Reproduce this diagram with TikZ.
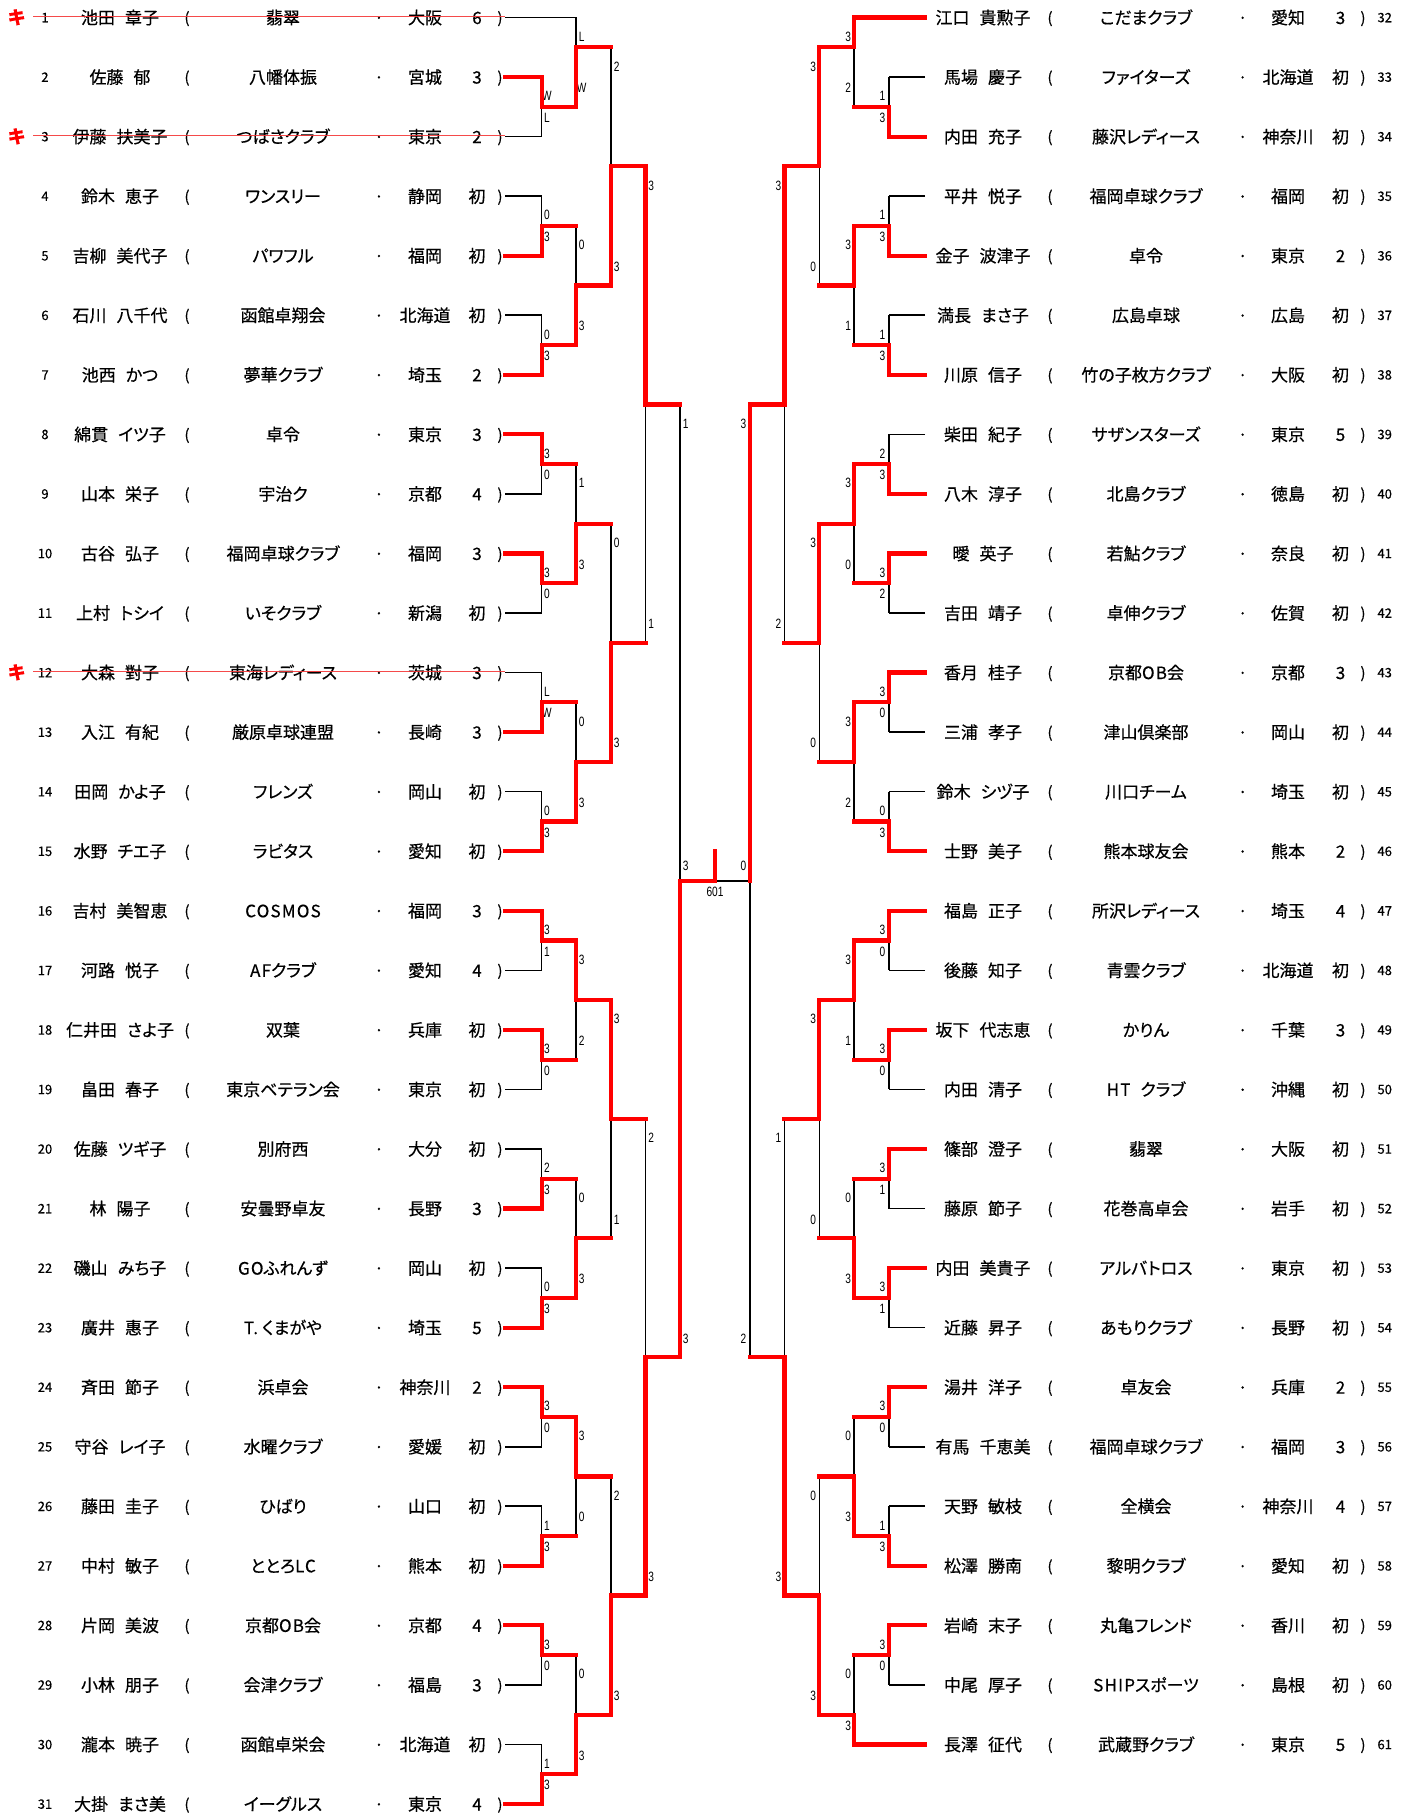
\documentclass[tikz,border=0pt]{standalone}
\usepackage{fontspec}
\newfontfamily\jp[RawFeature={+palt},FakeBold=0.5]{Noto Sans CJK JP}
\newfontfamily\jpn[FakeBold=0.3]{Noto Sans CJK JP}
\newfontfamily\narrowf[FakeStretch=0.75]{Liberation Sans}
\newcommand{\lsp}[1]{{\addfontfeature{LetterSpace=7}#1}}
\definecolor{wred}{RGB}{255,0,0}
\definecolor{sred}{RGB}{245,55,55}
\def\xla{505}\def\xlb{541.6}\def\xlc{576.2}\def\xld{611}\def\xle{645.4}\def\xlf{680}
\def\xc{715}
\def\xrf{750}\def\xre{784.5}\def\xrd{819.3}\def\xrc{854.2}\def\xrb{889}\def\xra{925}
\newcount\lblc
\newcommand{\mch}[6]{%
  \draw[blk] ({#1},{#2}) -- ({#1},{#3});
  \global\advance\lblc by 1
  \node[sc,name=st\the\lblc] at ({#1+#6},{#2+0.319}) {#4};
  \node[sc,name=sb\the\lblc] at ({#1+#6},{#3-0.319}) {#5};
}
\begin{document}
\begin{tikzpicture}[x=1pt,y=-59.55pt,
  blk/.style={line width=1.6pt, draw=black},
  win/.style={line width=4.2pt, draw=wred, line join=miter, line cap=rect},
  strike/.style={line width=1.5pt, draw=sred, opacity=.9},
  txt/.style={inner sep=0pt, font=\jp\fontsize{17}{17}\selectfont, text height=13pt, text depth=0pt},
  par/.style={inner sep=0pt, font=\jp\fontsize{15}{15}\selectfont, text height=11.5pt, text depth=0pt},
  rno/.style={inner sep=0pt, font=\jpn\fontsize{13}{13}\selectfont, text height=9.5pt, text depth=0pt},
  sc/.style={inner sep=0pt, font=\narrowf\fontsize{13.5}{13.5}\selectfont, text height=9.6pt, text depth=0pt},
  kiki/.style={inner sep=0pt, text=wred, font=\jpn\bfseries\fontsize{18}{18}\selectfont, text height=13pt, text depth=0pt}]
\useasboundingbox[fill=white] (0,0.70613) rectangle (1412,31.1512);

% ---------- left player texts ----------
\foreach \i/\fa/\gi/\tm/\pr/\ct in {
1/池田/章子/翡翠/大阪/6,
2/佐藤/郁/八幡体振/宮城/3,
3/伊藤/扶美子/つばさクラブ/東京/2,
4/鈴木/恵子/ワンスリー/静岡/初,
5/吉柳/美代子/パワフル/福岡/初,
6/石川/八千代/函館卓翔会/北海道/初,
7/池西/かつ/夢華クラブ/埼玉/2,
8/綿貫/イツ子/卓令/東京/3,
9/山本/栄子/宇治ク/京都/4,
10/古谷/弘子/福岡卓球クラブ/福岡/3,
11/上村/トシイ/いそクラブ/新潟/初,
12/大森/對子/東海レディース/茨城/3,
13/入江/有紀/厳原卓球連盟/長崎/3,
14/田岡/かよ子/フレンズ/岡山/初,
15/水野/チエ子/ラビタス/愛知/初,
16/吉村/美智恵/\lsp{COSMOS}/福岡/3,
17/河路/悦子/\lsp{AF}クラブ/愛知/4,
18/仁井田/さよ子/双葉/兵庫/初,
19/畠田/春子/東京ベテラン会/東京/初,
20/佐藤/ツギ子/別府西/大分/初,
21/林/陽子/安曇野卓友/長野/3,
22/磯山/みち子/\lsp{GO}ふれんず/岡山/初,
23/廣井/惠子/\lsp{T.}\hspace{4pt}くまがや/埼玉/5,
24/斉田/節子/浜卓会/神奈川/2,
25/守谷/レイ子/水曜クラブ/愛媛/初,
26/藤田/圭子/ひばり/山口/初,
27/中村/敏子/ととろ\lsp{LC}/熊本/初,
28/片岡/美波/京都\lsp{OB}会/京都/4,
29/小林/朋子/会津クラブ/福島/3,
30/瀧本/暁子/函館卓栄会/北海道/初,
31/大掛/まさ美/イーグルス/東京/4}{
  \node[rno,name=ln\i] at (45,\i) {\i};
  \node[txt,name=lnm\i] at (120,\i) {\fa\hspace{10pt}\gi};
  \node[par,name=lpo\i] at (187,\i) {(};
  \node[txt,name=ltm\i] at (283,\i) {\tm};
  \node[txt,name=ldt\i] at (379,\i) {·};
  \node[txt,name=lpr\i] at (425,\i) {\pr};
  \node[txt,name=lct\i] at (477,\i) {\ct};
  \node[par,name=lpc\i] at (500,\i) {)};
}

% ---------- right player texts ----------
\foreach \r/\i/\fa/\gi/\tm/\pr/\ct in {
1/32/江口/貴勲子/こだまクラブ/愛知/3,
2/33/馬場/慶子/ファイターズ/北海道/初,
3/34/内田/充子/藤沢レディース/神奈川/初,
4/35/平井/悦子/福岡卓球クラブ/福岡/初,
5/36/金子/波津子/卓令/東京/2,
6/37/満長/まさ子/広島卓球/広島/初,
7/38/川原/信子/竹の子枚方クラブ/大阪/初,
8/39/柴田/紀子/サザンスターズ/東京/5,
9/40/八木/淳子/北島クラブ/徳島/初,
10/41/曖/英子/若鮎クラブ/奈良/初,
11/42/吉田/靖子/卓伸クラブ/佐賀/初,
12/43/香月/桂子/京都\lsp{OB}会/京都/3,
13/44/三浦/孝子/津山倶楽部/岡山/初,
14/45/鈴木/シヅ子/川口チーム/埼玉/初,
15/46/士野/美子/熊本球友会/熊本/2,
16/47/福島/正子/所沢レディース/埼玉/4,
17/48/後藤/知子/青雲クラブ/北海道/初,
18/49/坂下/代志恵/かりん/千葉/3,
19/50/内田/清子/\lsp{HT}\hspace{10pt}クラブ/沖縄/初,
20/51/篠部/澄子/翡翠/大阪/初,
21/52/藤原/節子/花巻高卓会/岩手/初,
22/53/内田/美貴子/アルバトロス/東京/初,
23/54/近藤/昇子/あもりクラブ/長野/初,
24/55/湯井/洋子/卓友会/兵庫/2,
25/56/有馬/千恵美/福岡卓球クラブ/福岡/3,
26/57/天野/敏枝/全横会/神奈川/4,
27/58/松澤/勝南/黎明クラブ/愛知/初,
28/59/岩崎/末子/丸亀フレンド/香川/初,
29/60/中尾/厚子/\lsp{SHIP}スポーツ/島根/初,
30/61/長澤/征代/武蔵野クラブ/東京/5}{
  \node[txt,name=rnm\i] at (983,\r) {\fa\hspace{10pt}\gi};
  \node[par,name=rpo\i] at (1050,\r) {(};
  \node[txt,name=rtm\i] at (1146,\r) {\tm};
  \node[txt,name=rdt\i] at (1242.7,\r) {·};
  \node[txt,name=rpr\i] at (1288,\r) {\pr};
  \node[txt,name=rct\i] at (1340.5,\r) {\ct};
  \node[par,name=rpc\i] at (1363,\r) {)};
  \node[rno,name=rn\i] at (1384.7,\r) {\i};
}

% ---------- withdrawn players ----------
\foreach \k in {1,3,12}{
  \node[kiki,name=ki\k] at (16.7,\k) {キ};
  \draw[strike] (33,{\k-0.02}) -- (505,{\k-0.02});
}

% ---------- black skeleton: entries ----------
\draw[blk] (\xla,1) -- (\xlc,1);
\foreach \k in {2,...,31}{\draw[blk] (\xla,\k) -- (\xlb,\k);}
\draw[blk] (\xra,1) -- (\xrc,1);
\draw[blk] (\xra,30) -- (\xrc,30);
\foreach \k in {2,...,29}{\draw[blk] (\xra,\k) -- (\xrb,\k);}

% ---------- left matches ----------
\foreach \a/\t/\b in {2/W/L,4/0/3,6/0/3,8/3/0,10/3/0,12/L/W,14/0/3,16/3/1,18/3/0,20/2/3,22/0/3,24/3/0,26/1/3,28/3/0,30/1/3}
  {\mch{\xlb}{\a}{\a+1}{\t}{\b}{5.3}}
\foreach \a/\c/\t/\b in {1/2.5/L/W,4.5/6.5/0/3,8.5/10.5/1/3,12.5/14.5/0/3,16.5/18.5/3/2,20.5/22.5/0/3,24.5/26.5/3/0,28.5/30.5/0/3}
  {\mch{\xlc}{\a}{\c}{\t}{\b}{5.5}}
\foreach \a/\c/\t/\b in {1.5/5.5/2/3,9.5/13.5/0/3,17.5/21.5/3/1,25.5/29.5/2/3}
  {\mch{\xld}{\a}{\c}{\t}{\b}{5.7}}
\foreach \a/\c/\t/\b in {3.5/11.5/3/1,19.5/27.5/2/3}
  {\mch{\xle}{\a}{\c}{\t}{\b}{5.7}}
\mch{\xlf}{7.5}{23.5}{1}{3}{5.7}

% ---------- right matches ----------
\foreach \a/\t/\b in {2/1/3,4/1/3,6/1/3,8/2/3,10/3/2,12/3/0,14/0/3,16/3/0,18/3/0,20/3/1,22/3/1,24/3/0,26/1/3,28/3/0}
  {\mch{\xrb}{\a}{\a+1}{\t}{\b}{-6.5}}
\foreach \a/\c/\t/\b in {1/2.5/3/2,4.5/6.5/3/1,8.5/10.5/3/0,12.5/14.5/3/2,16.5/18.5/3/1,20.5/22.5/0/3,24.5/26.5/0/3,28.5/30/0/3}
  {\mch{\xrc}{\a}{\c}{\t}{\b}{-6.1}}
\foreach \a/\c/\t/\b in {1.5/5.5/3/0,9.5/13.5/3/0,17.5/21.5/3/0,25.5/29.5/0/3}
  {\mch{\xrd}{\a}{\c}{\t}{\b}{-6.1}}
\foreach \a/\c/\t/\b in {3.5/11.5/3/2,19.5/27.5/1/3}
  {\mch{\xre}{\a}{\c}{\t}{\b}{-6.1}}
\mch{\xrf}{7.5}{23.5}{3}{2}{-6.6}

% ---------- final ----------
\draw[blk] (\xlf,15.5) -- (\xrf,15.5);
\node[sc,name=fl] at ({\xlf+5.7},15.248) {3};
\node[sc,name=fr] at ({\xrf-6.6},15.248) {0};
\node[sc,name=fno] at (\xc,15.678) {601};

% ---------- red winner paths, left ----------
\draw[win] (\xla,2)--(\xlb,2)--(\xlb,2.5)--(\xlc,2.5)--(\xlc,1.5)--(\xld,1.5);
\draw[win] (\xla,5)--(\xlb,5)--(\xlb,4.5)--(\xlc,4.5);
\draw[win] (\xla,7)--(\xlb,7)--(\xlb,6.5)--(\xlc,6.5)--(\xlc,5.5)--(\xld,5.5)--(\xld,3.5)--(\xle,3.5)--(\xle,7.5)--(\xlf,7.5);
\draw[win] (\xla,8)--(\xlb,8)--(\xlb,8.5)--(\xlc,8.5);
\draw[win] (\xla,10)--(\xlb,10)--(\xlb,10.5)--(\xlc,10.5)--(\xlc,9.5)--(\xld,9.5);
\draw[win] (\xla,13)--(\xlb,13)--(\xlb,12.5)--(\xlc,12.5);
\draw[win] (\xla,15)--(\xlb,15)--(\xlb,14.5)--(\xlc,14.5)--(\xlc,13.5)--(\xld,13.5)--(\xld,11.5)--(\xle,11.5);
\draw[win] (\xla,16)--(\xlb,16)--(\xlb,16.5)--(\xlc,16.5)--(\xlc,17.5)--(\xld,17.5)--(\xld,19.5)--(\xle,19.5);
\draw[win] (\xla,18)--(\xlb,18)--(\xlb,18.5)--(\xlc,18.5);
\draw[win] (\xla,21)--(\xlb,21)--(\xlb,20.5)--(\xlc,20.5);
\draw[win] (\xla,23)--(\xlb,23)--(\xlb,22.5)--(\xlc,22.5)--(\xlc,21.5)--(\xld,21.5);
\draw[win] (\xla,24)--(\xlb,24)--(\xlb,24.5)--(\xlc,24.5)--(\xlc,25.5)--(\xld,25.5);
\draw[win] (\xla,27)--(\xlb,27)--(\xlb,26.5)--(\xlc,26.5);
\draw[win] (\xla,28)--(\xlb,28)--(\xlb,28.5)--(\xlc,28.5);
\draw[win] (\xla,31)--(\xlb,31)--(\xlb,30.5)--(\xlc,30.5)--(\xlc,29.5)--(\xld,29.5)--(\xld,27.5)--(\xle,27.5)--(\xle,23.5)--(\xlf,23.5)--(\xlf,15.5)--(\xc,15.5)--(\xc,14.996);

% ---------- red winner paths, right ----------
\draw[win] (\xra,1)--(\xrc,1)--(\xrc,1.5)--(\xrd,1.5)--(\xrd,3.5)--(\xre,3.5)--(\xre,7.5)--(\xrf,7.5)--(\xrf,15.5);
\draw[win] (\xra,3)--(\xrb,3)--(\xrb,2.5)--(\xrc,2.5);
\draw[win] (\xra,5)--(\xrb,5)--(\xrb,4.5)--(\xrc,4.5)--(\xrc,5.5)--(\xrd,5.5);
\draw[win] (\xra,7)--(\xrb,7)--(\xrb,6.5)--(\xrc,6.5);
\draw[win] (\xra,9)--(\xrb,9)--(\xrb,8.5)--(\xrc,8.5)--(\xrc,9.5)--(\xrd,9.5)--(\xrd,11.5)--(\xre,11.5);
\draw[win] (\xra,10)--(\xrb,10)--(\xrb,10.5)--(\xrc,10.5);
\draw[win] (\xra,12)--(\xrb,12)--(\xrb,12.5)--(\xrc,12.5)--(\xrc,13.5)--(\xrd,13.5);
\draw[win] (\xra,15)--(\xrb,15)--(\xrb,14.5)--(\xrc,14.5);
\draw[win] (\xra,16)--(\xrb,16)--(\xrb,16.5)--(\xrc,16.5)--(\xrc,17.5)--(\xrd,17.5)--(\xrd,19.5)--(\xre,19.5);
\draw[win] (\xra,18)--(\xrb,18)--(\xrb,18.5)--(\xrc,18.5);
\draw[win] (\xra,20)--(\xrb,20)--(\xrb,20.5)--(\xrc,20.5);
\draw[win] (\xra,22)--(\xrb,22)--(\xrb,22.5)--(\xrc,22.5)--(\xrc,21.5)--(\xrd,21.5);
\draw[win] (\xra,24)--(\xrb,24)--(\xrb,24.5)--(\xrc,24.5);
\draw[win] (\xra,27)--(\xrb,27)--(\xrb,26.5)--(\xrc,26.5)--(\xrc,25.5)--(\xrd,25.5);
\draw[win] (\xra,28)--(\xrb,28)--(\xrb,28.5)--(\xrc,28.5);
\draw[win] (\xra,30)--(\xrc,30)--(\xrc,29.5)--(\xrd,29.5)--(\xrd,27.5)--(\xre,27.5)--(\xre,23.5)--(\xrf,23.5);
\end{tikzpicture}
\end{document}
